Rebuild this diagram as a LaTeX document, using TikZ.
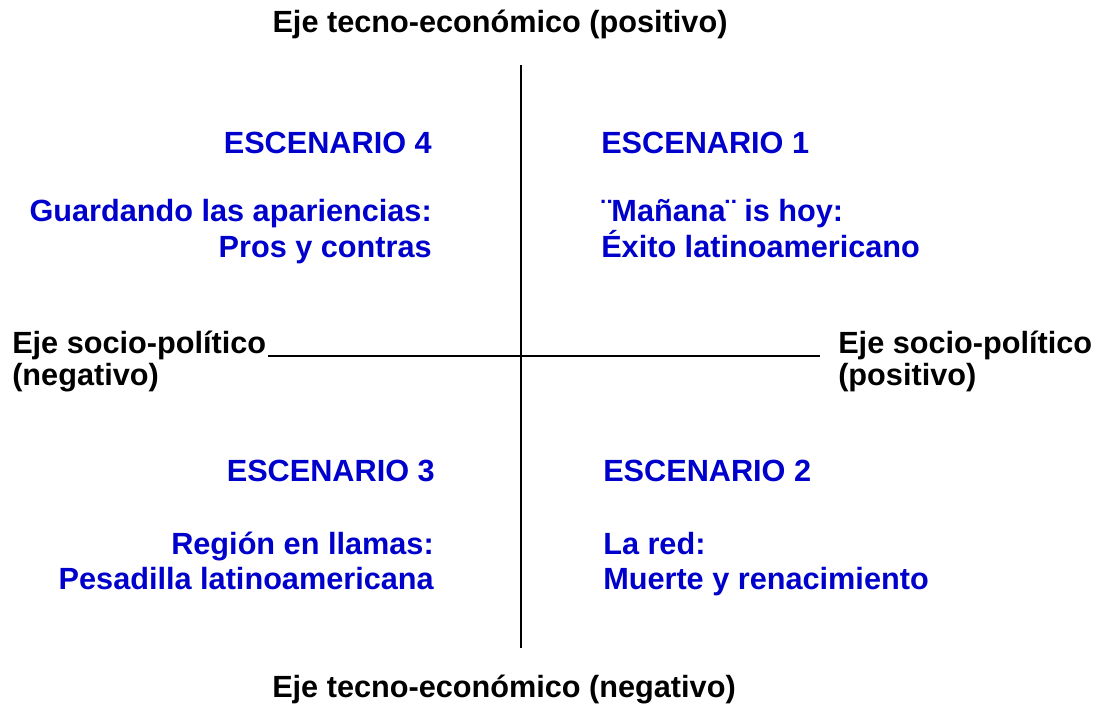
\documentclass[tikz,border=0pt]{standalone}
\usepackage{fontspec}
\setmainfont{Liberation Sans}
\definecolor{escblue}{RGB}{0,0,204}
\tikzset{
    eje/.style={inner sep=0pt, font=\fontsize{23}{27}\selectfont\bfseries, text=black},
    esc/.style={inner sep=0pt, font=\fontsize{23}{27}\selectfont\bfseries, text=escblue},
    axis/.style={line width=1.4pt, black},
}
\begin{document}
\begin{tikzpicture}[x=0.75pt, y=-0.75pt]
\useasboundingbox (0,0) rectangle (1099,711);
% ejes
\coordinate (axtop) at (521,65);
\coordinate (axbot) at (521,648);
\coordinate (axleft) at (268,356);
\coordinate (axright) at (820,356);
\draw[axis] (axtop) -- (axbot);
\draw[axis] (axleft) -- (axright);
\node[eje, anchor=base] (tecpos) at (500,32) {Eje tecno-económico (positivo)};
\node[eje, anchor=base] (tecneg) at (504,697) {Eje tecno-económico (negativo)};
\node[eje, anchor=base west] (socneg) at (12,353) {Eje socio-político};
\node[eje, anchor=base west] (socnegb) at (12,385) {(negativo)};
\node[eje, anchor=base west] (socpos) at (838,353) {Eje socio-político};
\node[eje, anchor=base west] (socposb) at (838,385) {(positivo)};
% escenarios
\node[esc, anchor=base east] (esc4) at (432,153) {ESCENARIO 4};
\node[esc, anchor=base east] (esc4a) at (432,221) {Guardando las apariencias:};
\node[esc, anchor=base east] (esc4b) at (432,257) {Pros y contras};
\node[esc, anchor=base west] (esc1) at (601,153) {ESCENARIO 1};
\node[esc, anchor=base west] (esc1a) at (601,221) {¨Mañana¨ is hoy:};
\node[esc, anchor=base west] (esc1b) at (601,257) {Éxito latinoamericano};
\node[esc, anchor=base east] (esc3) at (435,481) {ESCENARIO 3};
\node[esc, anchor=base east] (esc3a) at (434,554) {Región en llamas:};
\node[esc, anchor=base east] (esc3b) at (434,589) {Pesadilla latinoamericana};
\node[esc, anchor=base west] (esc2) at (603,481) {ESCENARIO 2};
\node[esc, anchor=base west] (esc2a) at (603,554) {La red:};
\node[esc, anchor=base west] (esc2b) at (603,589) {Muerte y renacimiento};
\end{tikzpicture}
\end{document}
